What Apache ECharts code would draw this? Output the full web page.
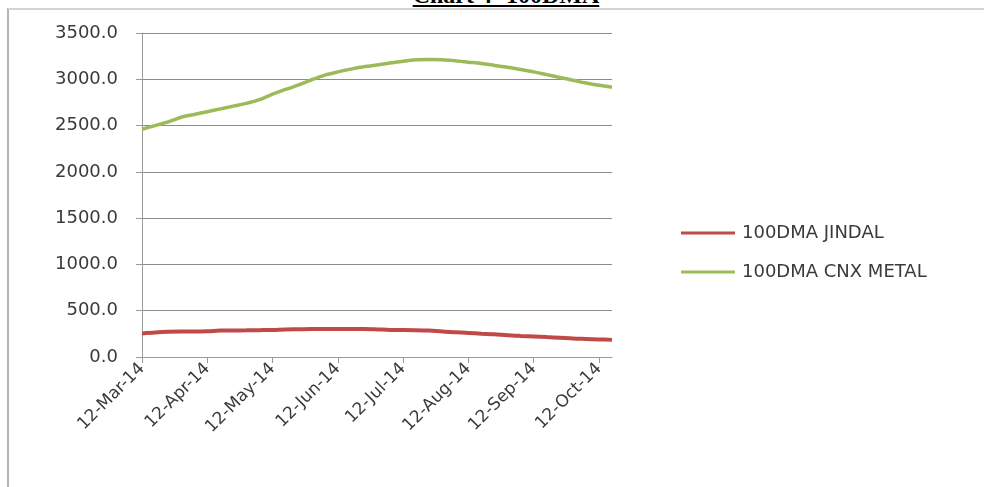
<!DOCTYPE html>
<html>
<head>
<meta charset="utf-8">
<script src="https://cdn.jsdelivr.net/npm/echarts@6/dist/echarts.min.js"></script>
<style>
  html, body { margin: 0; padding: 0; background: #fff; overflow: hidden; }
  #title {
    position: absolute; left: 0; width: 1012px; top: -18px; text-align: center;
    font-family: "Liberation Serif", serif; font-weight: bold; font-size: 24px;
    text-decoration: underline; color: #000;
  }
  #frame {
    position: absolute; left: 7px; top: 8px; width: 1000px; height: 500px;
    border-left: 2px solid #b4b4b4; border-top: 2px solid #d4d4d4;
  }
  #chartLine { position: absolute; left: 0; top: 0; width: 984px; height: 487px; }
</style>
</head>
<body>
<div id="title">Chart 4- 100DMA</div>
<div id="frame"></div>
<div id="chartLine"></div>
<script>
// dates sampled roughly every 6 days, labels on the 12th of each month
const dates = [
  '12-Mar-14', '18-Mar-14', '24-Mar-14', '30-Mar-14', '5-Apr-14',
  '12-Apr-14', '18-Apr-14', '24-Apr-14', '30-Apr-14', '6-May-14',
  '12-May-14', '18-May-14', '24-May-14', '30-May-14', '5-Jun-14',
  '12-Jun-14', '18-Jun-14', '24-Jun-14', '30-Jun-14', '6-Jul-14',
  '12-Jul-14', '18-Jul-14', '24-Jul-14', '30-Jul-14', '5-Aug-14',
  '12-Aug-14', '18-Aug-14', '24-Aug-14', '30-Aug-14', '5-Sep-14',
  '12-Sep-14', '18-Sep-14', '24-Sep-14', '30-Sep-14', '6-Oct-14',
  '12-Oct-14', '18-Oct-14'
]
const jindal = [
  255, 265, 272, 275, 275, 278, 285, 287, 288, 290,
  292, 298, 300, 302, 302, 303, 303, 302, 298, 293,
  292, 290, 285, 275, 268, 260, 252, 245, 235, 228,
  222, 215, 208, 200, 195, 190, 185
]
const cnxMetal = [
  2460, 2500, 2540, 2590, 2620, 2650, 2680, 2710, 2740, 2780,
  2840, 2890, 2940, 2995, 3045, 3080, 3110, 3135, 3155, 3175,
  3195, 3210, 3215, 3212, 3200, 3185, 3170, 3150, 3130, 3105,
  3080, 3050, 3020, 2990, 2960, 2935, 2915
]
const seriesNames = ['100DMA JINDAL', '100DMA CNX METAL']
const yTicks = { min: 0, max: 3500, interval: 500 }

var myChart = echarts.init(document.getElementById('chartLine'))
var option = {
  animation: false,
  grid: { left: 142, right: 372, top: 33, bottom: 130 },
  legend: {
    data: seriesNames,
    orient: 'vertical',
    left: 676,
    top: 219,
    icon: 'rect',
    itemWidth: 54,
    itemHeight: 3,
    itemGap: 21,
    textStyle: { fontFamily: 'DejaVu Sans', fontSize: 18, color: '#3a3a3a', padding: [0, 0, 0, 2] }
  },
  xAxis: {
    type: 'category',
    data: dates,
    boundaryGap: false,
    axisLine: { lineStyle: { color: '#9a9a9a', width: 1 } },
    axisTick: { interval: 4, length: 6, lineStyle: { color: '#9a9a9a' } },
    axisLabel: {
      interval: 4, rotate: 45, margin: 9,
      fontFamily: 'DejaVu Sans', fontSize: 17, color: '#3a3a3a'
    },
    splitLine: { show: false }
  },
  yAxis: {
    type: 'value',
    min: yTicks.min,
    max: yTicks.max,
    interval: yTicks.interval,
    axisLine: { show: true, lineStyle: { color: '#9a9a9a', width: 1 } },
    axisTick: { show: true, length: 6, lineStyle: { color: '#9a9a9a' } },
    axisLabel: {
      margin: 24,
      formatter: v => v.toFixed(1),
      fontFamily: 'DejaVu Sans', fontSize: 18, color: '#3a3a3a'
    },
    splitLine: { lineStyle: { color: '#8c8c8c', width: 1 } }
  },
  series: [
    {
      name: seriesNames[0], type: 'line', data: jindal,
      showSymbol: false, symbol: 'none', smooth: 0.3,
      lineStyle: { color: '#BE4B48', width: 4 },
      itemStyle: { color: '#BE4B48' }
    },
    {
      name: seriesNames[1], type: 'line', data: cnxMetal,
      showSymbol: false, symbol: 'none', smooth: 0.3,
      lineStyle: { color: '#9BBB59', width: 3.5 },
      itemStyle: { color: '#9BBB59' }
    }
  ]
}
myChart.setOption(option)
</script>
</body>
</html>
